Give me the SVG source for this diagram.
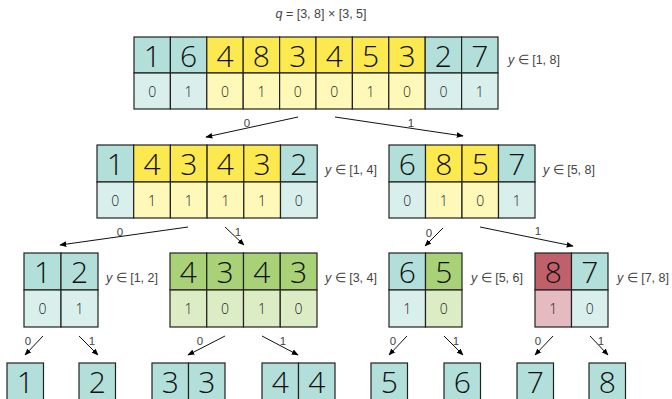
<svg xmlns="http://www.w3.org/2000/svg" width="672" height="399" viewBox="0 0 672 399">
<defs>
<marker id="ah" viewBox="0 0 10 10" refX="9" refY="5" markerWidth="7" markerHeight="7" orient="auto" markerUnits="userSpaceOnUse">
<path d="M0,1 L10,5 L0,9 z" fill="#000"/>
</marker>
<style>
rect{stroke:#222;stroke-width:1.2}
.t{fill:#b2dfd9}.tl{fill:#d9efec}
.y{fill:#fce94f}.yl{fill:#fef8b9}
.g{fill:#a8d178}.gl{fill:#dcecc4}
.r{fill:#c0606a}.rl{fill:#e5bbc1}
.big{font-family:"Open Sans","Liberation Sans",sans-serif;font-weight:300;font-size:30px;fill:#111;text-anchor:middle;dominant-baseline:central}
.sm{font-family:"Open Sans","Liberation Sans",sans-serif;font-weight:300;font-size:14px;fill:#222;text-anchor:middle;dominant-baseline:central}
.lab{font-family:"Liberation Sans",sans-serif;font-size:12.5px;fill:#444;dominant-baseline:central}
.el{font-family:"Liberation Sans",sans-serif;font-size:11.5px;fill:#444;text-anchor:middle;dominant-baseline:central}
.e{stroke:#111;stroke-width:1;fill:none;marker-end:url(#ah)}
</style>
</defs>
<rect width="672" height="399" fill="#fff" style="stroke:none"/>
<text x="321" y="14" class="lab" text-anchor="middle"><tspan font-style="italic">q</tspan> = [3, 8] × [3, 5]</text>

<g id="n_root">
<rect class="t" x="134" y="37" width="36.4" height="36"/><rect class="t" x="170.4" y="37" width="36.4" height="36"/>
<rect class="y" x="206.8" y="37" width="36.4" height="36"/><rect class="y" x="243.2" y="37" width="36.4" height="36"/>
<rect class="y" x="279.6" y="37" width="36.4" height="36"/><rect class="y" x="316" y="37" width="36.4" height="36"/>
<rect class="y" x="352.4" y="37" width="36.4" height="36"/><rect class="y" x="388.8" y="37" width="36.4" height="36"/>
<rect class="t" x="425.2" y="37" width="36.4" height="36"/><rect class="t" x="461.6" y="37" width="36.4" height="36"/>
<rect class="tl" x="134" y="73" width="36.4" height="36"/><rect class="tl" x="170.4" y="73" width="36.4" height="36"/>
<rect class="yl" x="206.8" y="73" width="36.4" height="36"/><rect class="yl" x="243.2" y="73" width="36.4" height="36"/>
<rect class="yl" x="279.6" y="73" width="36.4" height="36"/><rect class="yl" x="316" y="73" width="36.4" height="36"/>
<rect class="yl" x="352.4" y="73" width="36.4" height="36"/><rect class="yl" x="388.8" y="73" width="36.4" height="36"/>
<rect class="tl" x="425.2" y="73" width="36.4" height="36"/><rect class="tl" x="461.6" y="73" width="36.4" height="36"/>
<text class="big" y="55"><tspan x="152.2">1</tspan><tspan x="188.6">6</tspan><tspan x="225">4</tspan><tspan x="261.4">8</tspan><tspan x="297.8">3</tspan><tspan x="334.2">4</tspan><tspan x="370.6">5</tspan><tspan x="407">3</tspan><tspan x="443.4">2</tspan><tspan x="479.8">7</tspan></text>
<text class="sm" y="91"><tspan x="152.2">0</tspan><tspan x="188.6">1</tspan><tspan x="225">0</tspan><tspan x="261.4">1</tspan><tspan x="297.8">0</tspan><tspan x="334.2">0</tspan><tspan x="370.6">1</tspan><tspan x="407">0</tspan><tspan x="443.4">0</tspan><tspan x="479.8">1</tspan></text>
<text class="lab" x="508" y="60"><tspan font-style="italic">y</tspan> ∈ [1, 8]</text>
</g>

<g id="n_L">
<rect class="t" x="97" y="145" width="36.7" height="37"/><rect class="y" x="133.7" y="145" width="36.7" height="37"/>
<rect class="y" x="170.4" y="145" width="36.7" height="37"/><rect class="y" x="207.1" y="145" width="36.7" height="37"/>
<rect class="y" x="243.8" y="145" width="36.7" height="37"/><rect class="t" x="280.5" y="145" width="36.7" height="37"/>
<rect class="tl" x="97" y="182" width="36.7" height="36"/><rect class="yl" x="133.7" y="182" width="36.7" height="36"/>
<rect class="yl" x="170.4" y="182" width="36.7" height="36"/><rect class="yl" x="207.1" y="182" width="36.7" height="36"/>
<rect class="yl" x="243.8" y="182" width="36.7" height="36"/><rect class="tl" x="280.5" y="182" width="36.7" height="36"/>
<text class="big" y="163"><tspan x="115.3">1</tspan><tspan x="152">4</tspan><tspan x="188.7">3</tspan><tspan x="225.4">4</tspan><tspan x="262.1">3</tspan><tspan x="298.8">2</tspan></text>
<text class="sm" y="200"><tspan x="115.3">0</tspan><tspan x="152">1</tspan><tspan x="188.7">1</tspan><tspan x="225.4">1</tspan><tspan x="262.1">1</tspan><tspan x="298.8">0</tspan></text>
<text class="lab" x="325" y="170"><tspan font-style="italic">y</tspan> ∈ [1, 4]</text>
</g>

<g id="n_R">
<rect class="t" x="389" y="145" width="36.5" height="37"/><rect class="y" x="425.5" y="145" width="36.5" height="37"/>
<rect class="y" x="462" y="145" width="36.5" height="37"/><rect class="t" x="498.5" y="145" width="36.5" height="37"/>
<rect class="tl" x="389" y="182" width="36.5" height="36"/><rect class="yl" x="425.5" y="182" width="36.5" height="36"/>
<rect class="yl" x="462" y="182" width="36.5" height="36"/><rect class="tl" x="498.5" y="182" width="36.5" height="36"/>
<text class="big" y="163"><tspan x="407.2">6</tspan><tspan x="443.7">8</tspan><tspan x="480.2">5</tspan><tspan x="516.7">7</tspan></text>
<text class="sm" y="200"><tspan x="407.2">0</tspan><tspan x="443.7">1</tspan><tspan x="480.2">0</tspan><tspan x="516.7">1</tspan></text>
<text class="lab" x="543" y="170"><tspan font-style="italic">y</tspan> ∈ [5, 8]</text>
</g>

<g id="n_LL">
<rect class="t" x="24" y="253" width="37" height="37"/><rect class="t" x="61" y="253" width="37" height="37"/>
<rect class="tl" x="24" y="290" width="37" height="37"/><rect class="tl" x="61" y="290" width="37" height="37"/>
<text class="big" y="271"><tspan x="42.5">1</tspan><tspan x="79.5">2</tspan></text>
<text class="sm" y="308"><tspan x="42.5">0</tspan><tspan x="79.5">1</tspan></text>
<text class="lab" x="106" y="278"><tspan font-style="italic">y</tspan> ∈ [1, 2]</text>
</g>

<g id="n_LR">
<rect class="g" x="170" y="253" width="36.75" height="37"/><rect class="g" x="206.75" y="253" width="36.75" height="37"/>
<rect class="g" x="243.5" y="253" width="36.75" height="37"/><rect class="g" x="280.25" y="253" width="36.75" height="37"/>
<rect class="gl" x="170" y="290" width="36.75" height="37"/><rect class="gl" x="206.75" y="290" width="36.75" height="37"/>
<rect class="gl" x="243.5" y="290" width="36.75" height="37"/><rect class="gl" x="280.25" y="290" width="36.75" height="37"/>
<text class="big" y="271"><tspan x="188.4">4</tspan><tspan x="225.1">3</tspan><tspan x="261.9">4</tspan><tspan x="298.6">3</tspan></text>
<text class="sm" y="308"><tspan x="188.4">1</tspan><tspan x="225.1">0</tspan><tspan x="261.9">1</tspan><tspan x="298.6">0</tspan></text>
<text class="lab" x="325" y="278"><tspan font-style="italic">y</tspan> ∈ [3, 4]</text>
</g>

<g id="n_RL">
<rect class="t" x="389" y="253" width="36.5" height="37"/><rect class="g" x="425.5" y="253" width="36.5" height="37"/>
<rect class="tl" x="389" y="290" width="36.5" height="37"/><rect class="gl" x="425.5" y="290" width="36.5" height="37"/>
<text class="big" y="271"><tspan x="407.2">6</tspan><tspan x="443.7">5</tspan></text>
<text class="sm" y="308"><tspan x="407.2">1</tspan><tspan x="443.7">0</tspan></text>
<text class="lab" x="471" y="278"><tspan font-style="italic">y</tspan> ∈ [5, 6]</text>
</g>

<g id="n_RR">
<rect class="r" x="535" y="253" width="36.5" height="37"/><rect class="t" x="571.5" y="253" width="36.5" height="37"/>
<rect class="rl" x="535" y="290" width="36.5" height="37"/><rect class="tl" x="571.5" y="290" width="36.5" height="37"/>
<text class="big" y="271"><tspan x="553.2">8</tspan><tspan x="589.7">7</tspan></text>
<text class="sm" y="308"><tspan x="553.2">1</tspan><tspan x="589.7">0</tspan></text>
<text class="lab" x="617" y="278"><tspan font-style="italic">y</tspan> ∈ [7, 8]</text>
</g>

<g id="leaf1"><rect class="t" x="7" y="363" width="36.5" height="37"/><text class="big" x="25.2" y="381">1</text></g>
<g id="leaf2"><rect class="t" x="79" y="363" width="36.5" height="37"/><text class="big" x="97.2" y="381">2</text></g>
<g id="leaf3"><rect class="t" x="152" y="363" width="36.5" height="37"/><rect class="t" x="188.5" y="363" width="36.5" height="37"/><text class="big" y="381"><tspan x="170.2">3</tspan><tspan x="206.7">3</tspan></text></g>
<g id="leaf4"><rect class="t" x="262" y="363" width="36.5" height="37"/><rect class="t" x="298.5" y="363" width="36.5" height="37"/><text class="big" y="381"><tspan x="280.2">4</tspan><tspan x="316.7">4</tspan></text></g>
<g id="leaf5"><rect class="t" x="371" y="363" width="36.5" height="37"/><text class="big" x="389.2" y="381">5</text></g>
<g id="leaf6"><rect class="t" x="444" y="363" width="36.5" height="37"/><text class="big" x="462.2" y="381">6</text></g>
<g id="leaf7"><rect class="t" x="517" y="363" width="36.5" height="37"/><text class="big" x="535.2" y="381">7</text></g>
<g id="leaf8"><rect class="t" x="589" y="363" width="36.5" height="37"/><text class="big" x="607.2" y="381">8</text></g>

<g id="connectors">
<line class="e" x1="298" y1="117" x2="206" y2="137"/><text class="el" x="247" y="123">0</text>
<line class="e" x1="335" y1="117" x2="463" y2="136"/><text class="el" x="411" y="123">1</text>
<line class="e" x1="188" y1="227" x2="60" y2="245"/><text class="el" x="120" y="232">0</text>
<line class="e" x1="225" y1="227" x2="244" y2="245"/><text class="el" x="238" y="232">1</text>
<line class="e" x1="443" y1="228" x2="425" y2="246"/><text class="el" x="429" y="233">0</text>
<line class="e" x1="480" y1="227" x2="573" y2="246"/><text class="el" x="538" y="231">1</text>
<line class="e" x1="43" y1="336" x2="25" y2="355"/><text class="el" x="28" y="341">0</text>
<line class="e" x1="79" y1="336" x2="98" y2="355"/><text class="el" x="92" y="341">1</text>
<line class="e" x1="225" y1="336" x2="188" y2="355"/><text class="el" x="200" y="341">0</text>
<line class="e" x1="262" y1="336" x2="298" y2="355"/><text class="el" x="283" y="341">1</text>
<line class="e" x1="407" y1="336" x2="389" y2="355"/><text class="el" x="393" y="341">0</text>
<line class="e" x1="444" y1="336" x2="463" y2="355"/><text class="el" x="456" y="341">1</text>
<line class="e" x1="553" y1="336" x2="535" y2="355"/><text class="el" x="538" y="341">0</text>
<line class="e" x1="590" y1="336" x2="608" y2="355"/><text class="el" x="601" y="341">1</text>
</g>
</svg>
